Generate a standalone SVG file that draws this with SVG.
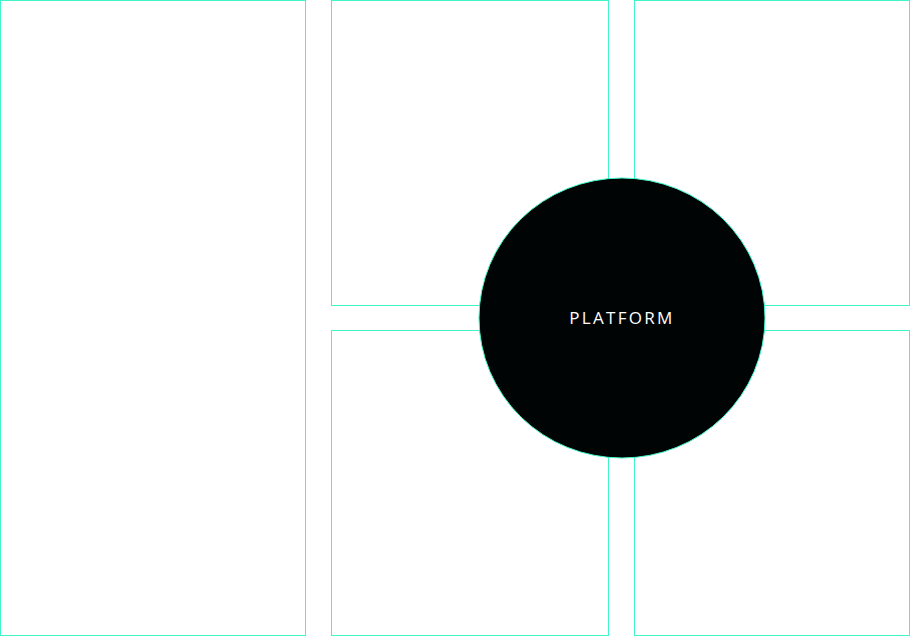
<svg xmlns="http://www.w3.org/2000/svg" width="910" height="637" viewBox="0 0 910 637">
<style>
.box{fill:#ffffff;stroke:#40f5c8;stroke-width:1}
.hub{fill:#010405;stroke:#40f5c8;stroke-width:1}
.lbl{font-family:"Open Sans","Liberation Sans",sans-serif;font-size:17px;fill:#ffffff;letter-spacing:2.3px}
</style>
<rect width="910" height="637" fill="#ffffff"/>
<g id="panel-left"><rect class="box" x="0.5" y="0.5" width="305" height="635"/></g>
<g id="panel-top-middle"><rect class="box" x="331.5" y="0.5" width="277" height="305"/></g>
<g id="panel-top-right"><rect class="box" x="634.5" y="0.5" width="275" height="305"/></g>
<g id="panel-bottom-middle"><rect class="box" x="331.5" y="330.5" width="277" height="305"/></g>
<g id="panel-bottom-right"><rect class="box" x="634.5" y="330.5" width="275" height="305"/></g>
<g id="connectors"></g>
<g id="platform">
<ellipse class="hub" cx="622" cy="318" rx="143" ry="140"/>
<text class="lbl" x="622" y="324" text-anchor="middle">PLATFORM</text>
</g>
</svg>
